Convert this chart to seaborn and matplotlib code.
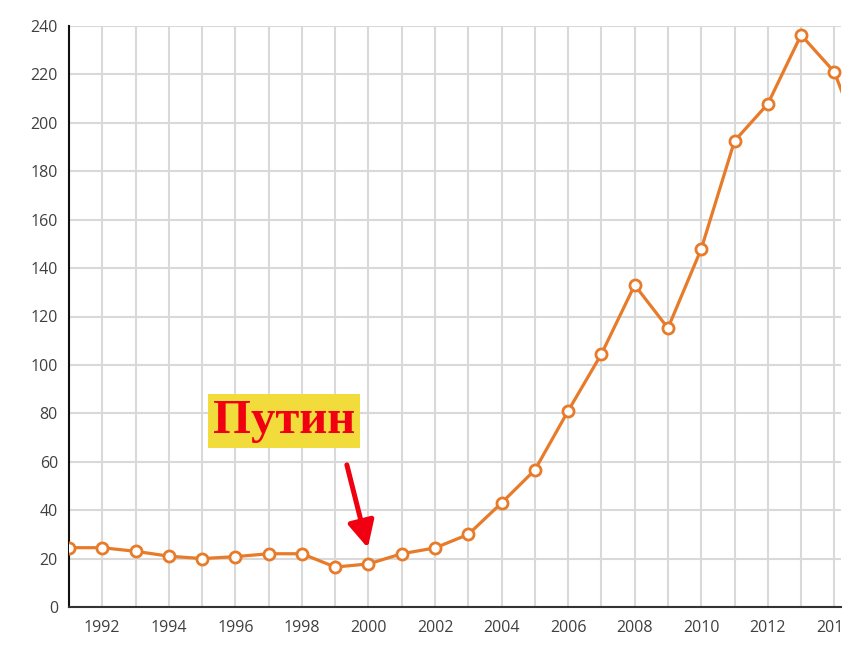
import numpy as np
import pandas as pd
import seaborn as sns
import matplotlib.pyplot as plt
from matplotlib.transforms import Bbox

# values
years = [1991, 1992, 1993, 1994, 1995, 1996, 1997, 1998, 1999, 2000, 2001, 2002,
         2003, 2004, 2005, 2006, 2007, 2008, 2009, 2010, 2011, 2012, 2013, 2014, 2015]
values = [24.5, 24.5, 23, 21, 20, 20.8, 22, 22, 16.5, 17.8, 22, 24.4,
          30, 43, 56.6, 81, 104.5, 133, 115.2, 147.9, 192.5, 207.8, 236.3, 221, 185]
ytick_vals = list(range(0, 241, 20))
xtick_years = list(range(1992, 2015, 2))

df = pd.DataFrame({"year": years, "value": values})

sns.set_style("white")
plt.rcParams['font.family'] = ['Open Sans', 'DejaVu Sans']

fig = plt.figure(figsize=(8.68, 6.52), dpi=100)
ax = fig.add_axes([69 / 868, 45 / 652, (841 - 69) / 868, (607 - 26) / 652])

orange = "#e87b2a"
sns.lineplot(data=df, x="year", y="value", ax=ax, color=orange, lw=2.3,
             marker="o", markersize=8, markerfacecolor="white",
             markeredgecolor=orange, markeredgewidth=2, zorder=3)

ax.set_xticks(xtick_years)
ax.set_xticklabels([str(y) for y in xtick_years])
ax.set_xticks(years, minor=True)
ax.set_yticks(ytick_vals)
# limits after the ticks, otherwise set_xticks widens them
ax.set_xlim(1991, 2014.2)
ax.set_ylim(0, 240)
ax.set_xlabel("")
ax.set_ylabel("")

# grid at every year and every 20
ax.grid(True, which="both", color="#d9d9d9", lw=1.5)
ax.set_axisbelow(True)
for s in ["top", "right"]:
    ax.spines[s].set_visible(False)
ax.spines["left"].set_color("#111111")
ax.spines["bottom"].set_color("#333333")
ax.spines["left"].set_linewidth(1.5)
ax.spines["bottom"].set_linewidth(1.5)
ax.tick_params(axis="both", which="major", length=5, width=1.3, color="#333333",
               labelsize=11.5, labelcolor="#404040", pad=4)
ax.tick_params(axis="x", which="minor", length=0)
ax.tick_params(axis="y", pad=3)

# the last tick label is cut off at the picture edge
clip = Bbox.from_extents(0, 0, 841, 652)
for lab in ax.get_xticklabels():
    lab.set_clip_on(True)
    lab.set_clip_box(clip)

# annotation
ax.text(1997.47, 76.8, "Путин", color="#f00010", fontsize=35, fontweight="bold",
        family=["Liberation Serif", "DejaVu Serif"], ha="center", va="center",
        bbox=dict(boxstyle="square,pad=0.1", facecolor="#f1dc3b", edgecolor="none"),
        zorder=5)
ax.annotate("", xy=(1999.98, 24.4), xytext=(1999.35, 58.7),
            arrowprops=dict(arrowstyle="-|>,head_length=0.8,head_width=0.4",
                            color="#f00010", lw=3.6, mutation_scale=20,
                            shrinkA=0, shrinkB=0),
            zorder=5)

fig.savefig("out.png", dpi=100, facecolor="white")
